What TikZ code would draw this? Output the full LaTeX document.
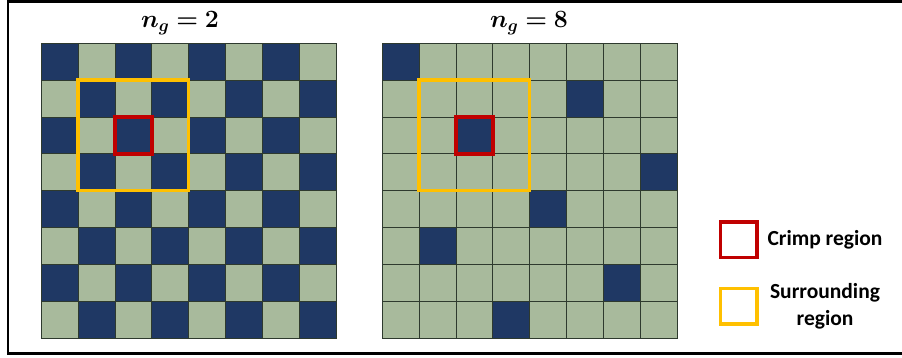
\documentclass[tikz,border=0pt]{standalone}
\usepackage{fontspec}
\usepackage{amsmath}
\usepackage{bm}
\newfontfamily\legendfont{Carlito}
\definecolor{navy}{HTML}{1F3864}
\definecolor{sage}{HTML}{A8BA9C}
\definecolor{gridline}{HTML}{2E3A2E}
\definecolor{crimpred}{HTML}{C00000}
\definecolor{surryellow}{HTML}{FFC000}
\begin{document}
\begin{tikzpicture}[x=1pt,y=-1pt,
  darkcell/.style={fill=navy,draw=gridline,line width=0.9pt},
  lightcell/.style={fill=sage,draw=gridline,line width=0.9pt},
  crimpbox/.style={draw=crimpred,line width=3.4pt},
  surrbox/.style={draw=surryellow,line width=3.4pt},
  titletext/.style={font=\fontsize{24.5}{28}\selectfont,inner sep=0pt},
  legendtext/.style={font=\legendfont\bfseries\fontsize{21.5}{27}\selectfont,align=center,inner sep=0pt}]
\useasboundingbox (0,0) rectangle (902,358);
\fill[white] (0,0) rectangle (902,358);
\draw[line width=2.2pt,black] (8,1.5) rectangle (910,353.5);
\def\cs{36.85}
% grid 1: checkerboard
\foreach \r in {0,...,7}{
  \foreach \c in {0,...,7}{
    \pgfmathtruncatemacro{\parity}{mod(\r+\c,2)}
    \ifnum\parity=0
      \draw[darkcell] ({41.3+\c*\cs},{43.3+\r*\cs}) rectangle ++(\cs,\cs);
    \else
      \draw[lightcell] ({41.3+\c*\cs},{43.3+\r*\cs}) rectangle ++(\cs,\cs);
    \fi
  }
}
% grid 2: sparse
\foreach \r in {0,...,7}{
  \foreach \c in {0,...,7}{
    \draw[lightcell] ({382.3+\c*\cs},{43.3+\r*\cs}) rectangle ++(\cs,\cs);
  }
}
\foreach \r/\c in {0/0,1/5,2/2,3/7,4/4,5/1,6/6,7/3}{
  \draw[darkcell] ({382.3+\c*\cs},{43.3+\r*\cs}) rectangle ++(\cs,\cs);
}
% regions grid 1
\draw[surrbox] ({41.3+1*\cs},{43.3+1*\cs}) rectangle ++({3*\cs},{3*\cs});
\draw[crimpbox] ({41.3+2*\cs},{43.3+2*\cs}) rectangle ++(\cs,\cs);
% regions grid 2
\draw[surrbox] ({382.3+1*\cs},{43.3+1*\cs}) rectangle ++({3*\cs},{3*\cs});
\draw[crimpbox] ({382.3+2*\cs},{43.3+2*\cs}) rectangle ++(\cs,\cs);
% titles
\node[titletext] (t1) at (180,23) {$\bm{n_g = 2}$};
\node[titletext] (t2) at (529,23) {$\bm{n_g = 8}$};
% legend
\draw[crimpbox] (720.5,222) rectangle (757,257.5);
\draw[surrbox] (720.5,288.5) rectangle (757,324);
\node[legendtext] (l1) at (825,239.5) {Crimp region};
\node[legendtext] (l2) at (825,306.5) {Surrounding\\region};
\end{tikzpicture}
\end{document}
